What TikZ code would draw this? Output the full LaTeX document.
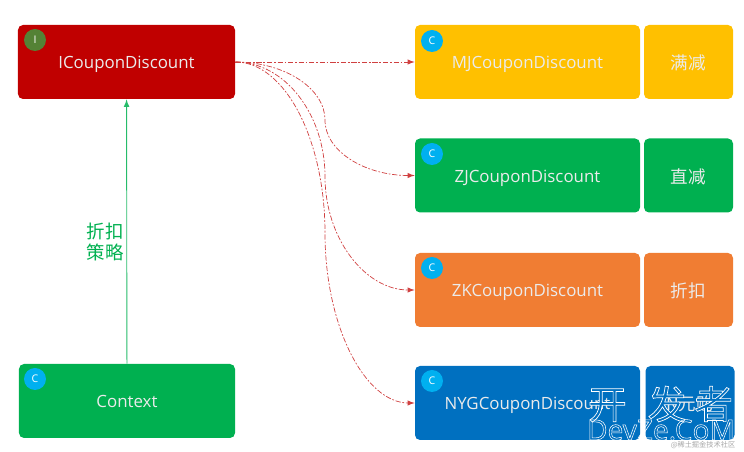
\documentclass[tikz,border=0pt]{standalone}
\usepackage{fontspec}
\setmainfont{Open Sans}
\newfontfamily\cjk{Noto Sans CJK SC}
\definecolor{redbox}{HTML}{C00000}
\definecolor{yellowbox}{HTML}{FFC000}
\definecolor{greenbox}{HTML}{00B050}
\definecolor{orangebox}{HTML}{F07D33}
\definecolor{bluebox}{HTML}{0070C0}
\definecolor{badgeblue}{HTML}{00B0F0}
\definecolor{badgegreen}{HTML}{548235}
\newcommand{\outlined}[1]{\special{pdf:code q 1 Tr 0.3 w}#1\special{pdf:code Q}}
\newcommand{\masked}[1]{\special{pdf:code q 2 Tr 0.4 w 1 1 1 RG}#1\special{pdf:code Q}}
\tikzset{
  classbox/.style={rounded corners=0.1cm, minimum width=4.5cm, minimum height=1.48cm, text=white!92!black, text height=8.5pt, text depth=1pt, font=\fontsize{9.6}{12}\selectfont},
  tagbox/.style={rounded corners=0.1cm, minimum width=1.78cm, minimum height=1.48cm, text=white!92!black, text height=9.5pt, text depth=0.5pt, font=\cjk\fontsize{10}{12}\selectfont},
  badge/.style={circle, minimum size=0.44cm, inner sep=0pt, text=white, font=\fontsize{6}{7}\selectfont},
  impl/.style={-latex, dash pattern=on 3pt off 1pt on 1pt off 1pt, color=redbox!75!white, line width=0.4pt},
  uses/.style={-latex, color=greenbox!85!white, line width=0.5pt}
}
\begin{document}
\begin{tikzpicture}
\useasboundingbox (0,0) rectangle (14.88,-9.04);
\node[classbox, fill=redbox, minimum width=4.34cm] (ic) at (2.53,-1.24) {ICouponDiscount};
\node[classbox, fill=greenbox, minimum width=4.32cm] (ctx) at (2.54,-8.02) {Context};
\node[classbox, fill=yellowbox] (mj) at (10.55,-1.24) {MJCouponDiscount};
\node[classbox, fill=greenbox] (zj) at (10.55,-3.51) {ZJCouponDiscount};
\node[classbox, fill=orangebox] (zk) at (10.55,-5.8) {ZKCouponDiscount};
\node[classbox, fill=bluebox] (nyg) at (10.55,-8.06) {NYGCouponDiscount};
\node[tagbox, fill=yellowbox] (mjtag) at (13.77,-1.24) {满减};
\node[tagbox, fill=greenbox] (zjtag) at (13.77,-3.51) {直减};
\node[tagbox, fill=orangebox] (zktag) at (13.77,-5.8) {折扣};
\node[tagbox, fill=bluebox] (nygtag) at (13.8,-8.06) {N元购};
\node[badge, fill=badgegreen] (icbadge) at (0.7,-0.8) {I};
\node[badge, fill=badgeblue] (ctxbadge) at (0.7,-7.58) {C};
\node[badge, fill=badgeblue] (mjbadge) at (8.64,-0.82) {C};
\node[badge, fill=badgeblue] (zjbadge) at (8.64,-3.08) {C};
\node[badge, fill=badgeblue] (zkbadge) at (8.64,-5.36) {C};
\node[badge, fill=badgeblue] (nygbadge) at (8.64,-7.62) {C};
\node[align=center, text=greenbox, font=\cjk\fontsize{10.5}{12.5}\selectfont] (strategy) at (2.1,-4.84) {折扣\\策略};
\coordinate (zjmid) at (6.5,-2.4);
\coordinate (zkmid) at (6.5,-3.53);
\coordinate (nygmid) at (6.5,-4.66);
\draw[uses] (ctx) -- (ic);
\draw[impl] (ic.east) -- (mj.west);
\draw[impl] (ic.east) .. controls +(0.99,0) and +(0,0.63) .. (zjmid) .. controls +(0,-0.63) and +(-0.99,0) .. (zj.west);
\draw[impl] (ic.east) .. controls +(0.99,0) and +(0,1.24) .. (zkmid) .. controls +(0,-1.24) and +(-0.99,0) .. (zk.west);
\draw[impl] (ic.east) .. controls +(0.99,0) and +(0,1.87) .. (nygmid) .. controls +(0,-1.87) and +(-0.99,0) .. (nyg.west);
\node[font=\cjk\fontsize{22}{24}\selectfont, text=bluebox] (markcn) at (13.21,-8.08) {\masked{开\hspace{12pt}发\hspace{4.5pt}者}};
\node[font=\fontsize{16}{18}\selectfont, text=white] (markdev) at (13.22,-8.6) {\outlined{DevZe.CoM}};
\node[font=\cjk\fontsize{4.1}{5}\selectfont, text=gray!70] (marksmall) at (14.06,-8.9) {@稀土掘金技术社区};
\end{tikzpicture}
\end{document}
